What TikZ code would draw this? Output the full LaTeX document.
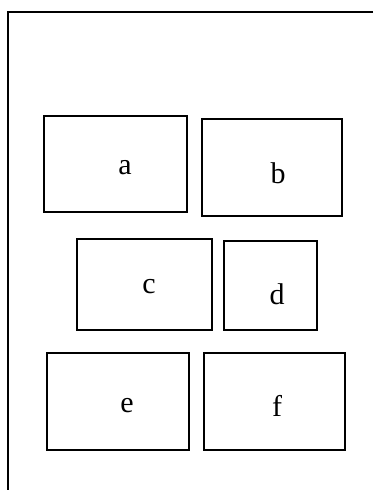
\documentclass[tikz,border=0pt]{standalone}
\usepackage{fontspec}
\setmainfont{Liberation Serif}
\begin{document}
\begin{tikzpicture}[x=1pt,y=1pt,
  boxnode/.style={draw=black,line width=2.2pt,rectangle,inner sep=0pt,minimum width=#1},
  lbl/.style={inner sep=0pt,font=\fontsize{30}{34}\selectfont}]
\useasboundingbox (0,0) rectangle (383,490);
\fill[white] (0,0) rectangle (383,490);
% outer frame
\coordinate (tr) at (373,478);
\coordinate (tl) at (8,478);
\coordinate (bl) at (8,0);
\draw[line width=2.6pt] (tr) -- (tl) -- (bl);
% boxes
\node[boxnode=143pt,minimum height=96pt] (a) at (115.5,326) {};
\node[boxnode=140pt,minimum height=97pt] (b) at (272,322.5) {};
\node[boxnode=135pt,minimum height=91pt] (c) at (144.5,205.5) {};
\node[boxnode=93pt,minimum height=89pt] (d) at (270.5,204.5) {};
\node[boxnode=142pt,minimum height=97pt] (e) at (118,88.5) {};
\node[boxnode=141pt,minimum height=97pt] (f) at (274.5,88.5) {};
% labels
\node[lbl] (ta) at (125,322) {a};
\node[lbl] (tb) at (278,317) {b};
\node[lbl] (tc) at (149,203) {c};
\node[lbl] (td) at (277,196) {d};
\node[lbl] (te) at (127,84) {e};
\node[lbl] (tf) at (277,84) {f};
\end{tikzpicture}
\end{document}
